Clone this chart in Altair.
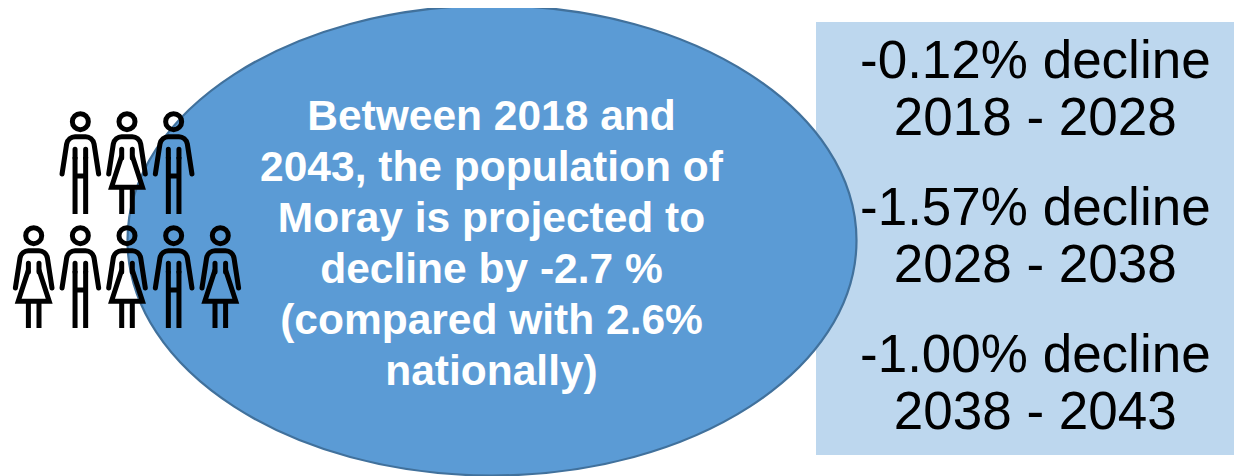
import altair as alt
import pandas as pd

OX, OY = 8, 8  # page margin
FONT = "Liberation Sans"

center_lines = ["Between 2018 and", "2043, the population of", "Moray is projected to",
                "decline by -2.7 %", "(compared with 2.6%", "nationally)"]
decline_blocks = [["-0.12% decline", "2018 - 2028"],
                  ["-1.57% decline", "2028 - 2038"],
                  ["-1.00% decline", "2038 - 2043"]]
people_col = [1, 2, 3, 0, 1, 2, 3, 4]
people_row = [0, 0, 0, 1, 1, 1, 1, 1]
people_sex = ["m", "f", "m", "f", "m", "f", "m", "f"]

# Shapes, in pixels around the symbol's centre (size=4 gives a scale of 1)
def ellipse(rx, ry):
    k = 0.5523
    return (f"M{-rx},0 C{-rx},{-k*ry} {-k*rx},{-ry} 0,{-ry} C{k*rx},{-ry} {rx},{-k*ry} {rx},0 "
            f"C{rx},{k*ry} {k*rx},{ry} 0,{ry} C{-k*rx},{ry} {-rx},{k*ry} {-rx},0 Z")

HEAD = ("M-8,-41.3 C-8,-45.7 -4.4,-49.3 0,-49.3 C4.4,-49.3 8,-45.7 8,-41.3 "
        "C8,-36.9 4.4,-33.3 0,-33.3 C-4.4,-33.3 -8,-36.9 -8,-41.3 Z ")
ARMS = ("M-18.3,11 L-13.7,-19 C-13,-23.5 -9,-26.3 -5.3,-26.3 L5.3,-26.3 "
        "C9,-26.3 13,-23.5 13.7,-19 L18.3,11 M-5.3,-13.7 L-5.3,-5 M5.3,-13.7 L5.3,-5")
MALE = "M-5.3,-6 L-5.3,51 M5.3,-6 L5.3,51 M-5.3,13 L5.3,13"
FEMALE = ("M-5.3,-7 L-15.5,24.3 L15.5,24.3 L5.3,-7 "
          "M-5.3,24.3 L-5.3,51 M5.3,24.3 L5.3,51")

people = pd.DataFrame({"col": people_col, "row": people_row, "sex": people_sex})
x_scale = alt.Scale(domain=[0, 4], range=[33.7 - OX, 220.3 - OX])
y_scale = alt.Scale(domain=[0, 1], range=[163 - OY, 277 - OY])
pos = dict(x=alt.X("col:Q", scale=x_scale, axis=None),
           y=alt.Y("row:Q", scale=y_scale, axis=None))
one = pd.DataFrame({"k": [0]})


def icon(shape, cap, flt=None):
    base = alt.Chart(people)
    if flt:
        base = base.transform_filter(f"datum.sex == '{flt}'")
    return base.mark_point(shape=shape, size=4, filled=False, stroke="#000000",
                           strokeWidth=5, strokeCap=cap, strokeJoin="miter",
                           opacity=1).encode(**pos)


def text_line(s, x, y, size, color, weight="normal"):
    return alt.Chart(one).mark_text(text=s, font=FONT, fontSize=size, color=color,
                                    fontWeight=weight, align="center",
                                    baseline="alphabetic").encode(
        x=alt.value(x - OX), y=alt.value(y - OY))


panel = alt.Chart(one).mark_rect(color="#BDD7EE").encode(
    x=alt.value(816 - OX), x2=alt.value(1242 - OX),
    y=alt.value(22 - OY), y2=alt.value(455 - OY))

oval = alt.Chart(one).mark_point(shape=ellipse(364.5, 235), size=4, filled=True,
                                 fill="#5B9BD5", stroke="#41719C", strokeWidth=2.2,
                                 opacity=1).encode(
    x=alt.value(492 - OX), y=alt.value(240.5 - OY))

layers = [panel, oval]
for i, s in enumerate(center_lines):
    layers.append(text_line(s, 491.5, 130 + i * 51, 42.5, "#FFFFFF", "bold"))
for b, block in enumerate(decline_blocks):
    for i, s in enumerate(block):
        layers.append(text_line(s, 1035.3, 78.3 + b * 147 + i * 57, 53, "#000000"))
layers += [icon(HEAD + ARMS, "round"), icon(MALE, "butt", "m"), icon(FEMALE, "butt", "f")]

chart = alt.layer(*layers).properties(
    width=1226, height=468, padding=0,
    autosize=alt.AutoSizeParams(type="none"), background="#FFFFFF"
).configure_view(stroke=None)

chart.save("out.html", embed_options={"renderer": "svg", "actions": False})
